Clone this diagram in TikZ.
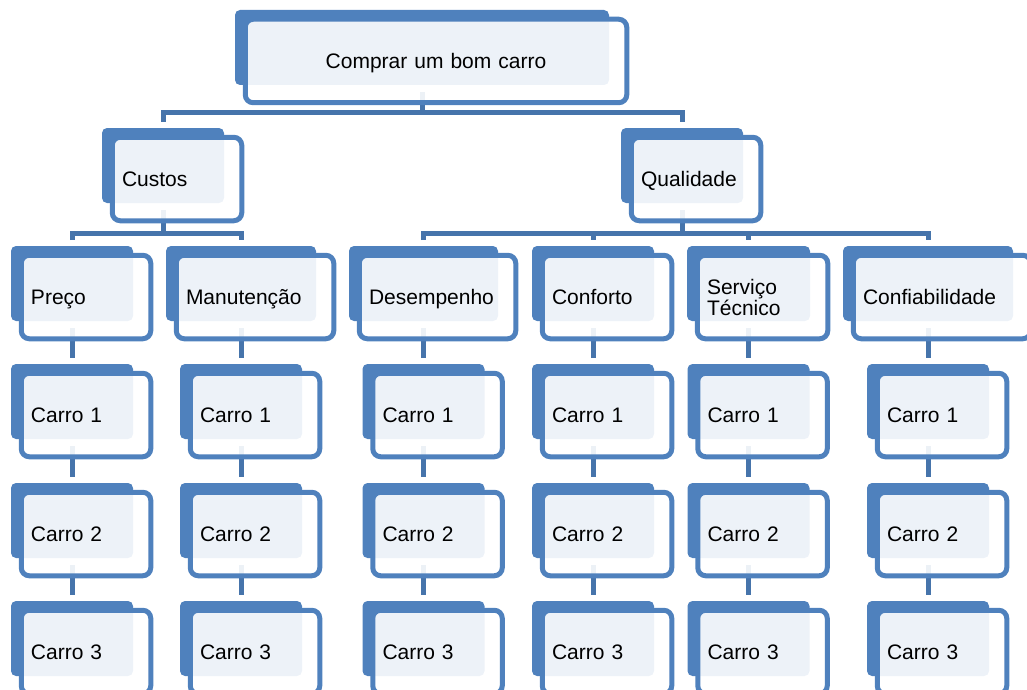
\documentclass[tikz,border=0pt]{standalone}
\usepackage{fontspec}
\setmainfont{Liberation Sans}
\definecolor{boxblue}{HTML}{4F81BD}
\definecolor{connblue}{HTML}{4674AB}
\pgfdeclarelayer{connlayer}
\pgfdeclarelayer{backlayer}
\pgfsetlayers{connlayer,backlayer,main}
\tikzset{
  abox/.style={fill=boxblue, draw=none, rounded corners=2.5pt, minimum height=37.5pt, inner sep=0pt, outer sep=0pt},
  bbox/.style={draw=boxblue, line width=2.5pt, fill=white, fill opacity=0.9, text opacity=1,
    rounded corners=4pt, minimum height=41.75pt, inner xsep=4.875pt, inner ysep=0pt, outer sep=0pt,
    font=\fontsize{10.5}{10.3}\selectfont,
    execute at begin node={\lineskiplimit=-100pt\rule[-3.15pt]{0pt}{14pt}}, execute at end node=\strut},
  conn/.style={draw=connblue, line width=2.5pt, line join=miter}
}
\newcommand\mkbox[6]{%
  \begin{pgfonlayer}{backlayer}
    \node[abox, minimum width={#4*0.5pt}, anchor=north west] (#1A) at (#2,#3) {};
  \end{pgfonlayer}
  \pgfmathsetlengthmacro\mytw{(#4-12)*0.5pt}%
  \node[bbox, minimum width={(#4+7.5)*0.5pt}, text width=\mytw, align=#6, anchor=north west] (#1) at (#2+10.25,#3+9.25) {#5};
}
\begin{document}
\begin{tikzpicture}[x=0.5pt,y=-0.5pt]
\useasboundingbox (0,0) rectangle (1027,690);
\clip (0,0) rectangle (1027,690);
% boxes
\mkbox{top}{235}{10}{374}{Comprar um bom carro}{center}
\mkbox{custos}{102}{128}{122}{Custos}{left}
\mkbox{qual}{621}{128}{122}{Qualidade}{left}
\mkbox{preco}{11}{246}{122}{Preço}{left}
\mkbox{manut}{166}{246}{150}{Manutenção}{left}
\mkbox{desemp}{349}{246}{149}{Desempenho}{left}
\mkbox{conf}{532}{246}{122}{Conforto}{left}
\mkbox{serv}{687}{246}{123}{Serviço\\Técnico}{left}
\mkbox{confi}{843}{246}{170}{Confiabilidade}{left}
\foreach \n/\x in {preco/11, manut/180, desemp/362.5, conf/532, serv/687.5, confi/867} {
  \mkbox{\n1}{\x}{364}{122}{Carro 1}{left}
  \mkbox{\n2}{\x}{483}{122}{Carro 2}{left}
  \mkbox{\n3}{\x}{601}{122}{Carro 3}{left}
}
% connectors
\coordinate (busA) at (0,113);
\coordinate (busB) at (0,233);
\begin{pgfonlayer}{connlayer}
  \draw[conn] ([yshift=-3.5pt]topA.south) -- (topA.south |- busA);
  \draw[conn] ([yshift=3pt]custosA.north) |- (busA -| qualA.north) -- ([yshift=3pt]qualA.north);
  \draw[conn] ([yshift=-3.5pt]custosA.south) -- (custosA.south |- busB);
  \draw[conn] ([yshift=3pt]precoA.north) |- (busB -| manutA.north) -- ([yshift=3pt]manutA.north);
  \draw[conn] ([yshift=-3.5pt]qualA.south) -- (qualA.south |- busB);
  \draw[conn] ([yshift=3pt]desempA.north) |- (busB -| confiA.north) -- ([yshift=3pt]confiA.north);
  \draw[conn] (confA.north |- busB) -- ([yshift=3pt]confA.north);
  \draw[conn] (servA.north |- busB) -- ([yshift=3pt]servA.north);
  \foreach \n in {preco, manut, desemp, conf, serv, confi} {
    \draw[conn] ([yshift=-3.5pt]\n A.south) -- ([yshift=3pt]\n1A.north);
    \draw[conn] ([yshift=-3.5pt]\n1A.south) -- ([yshift=3pt]\n2A.north);
    \draw[conn] ([yshift=-3.5pt]\n2A.south) -- ([yshift=3pt]\n3A.north);
  }
\end{pgfonlayer}
\end{tikzpicture}
\end{document}
